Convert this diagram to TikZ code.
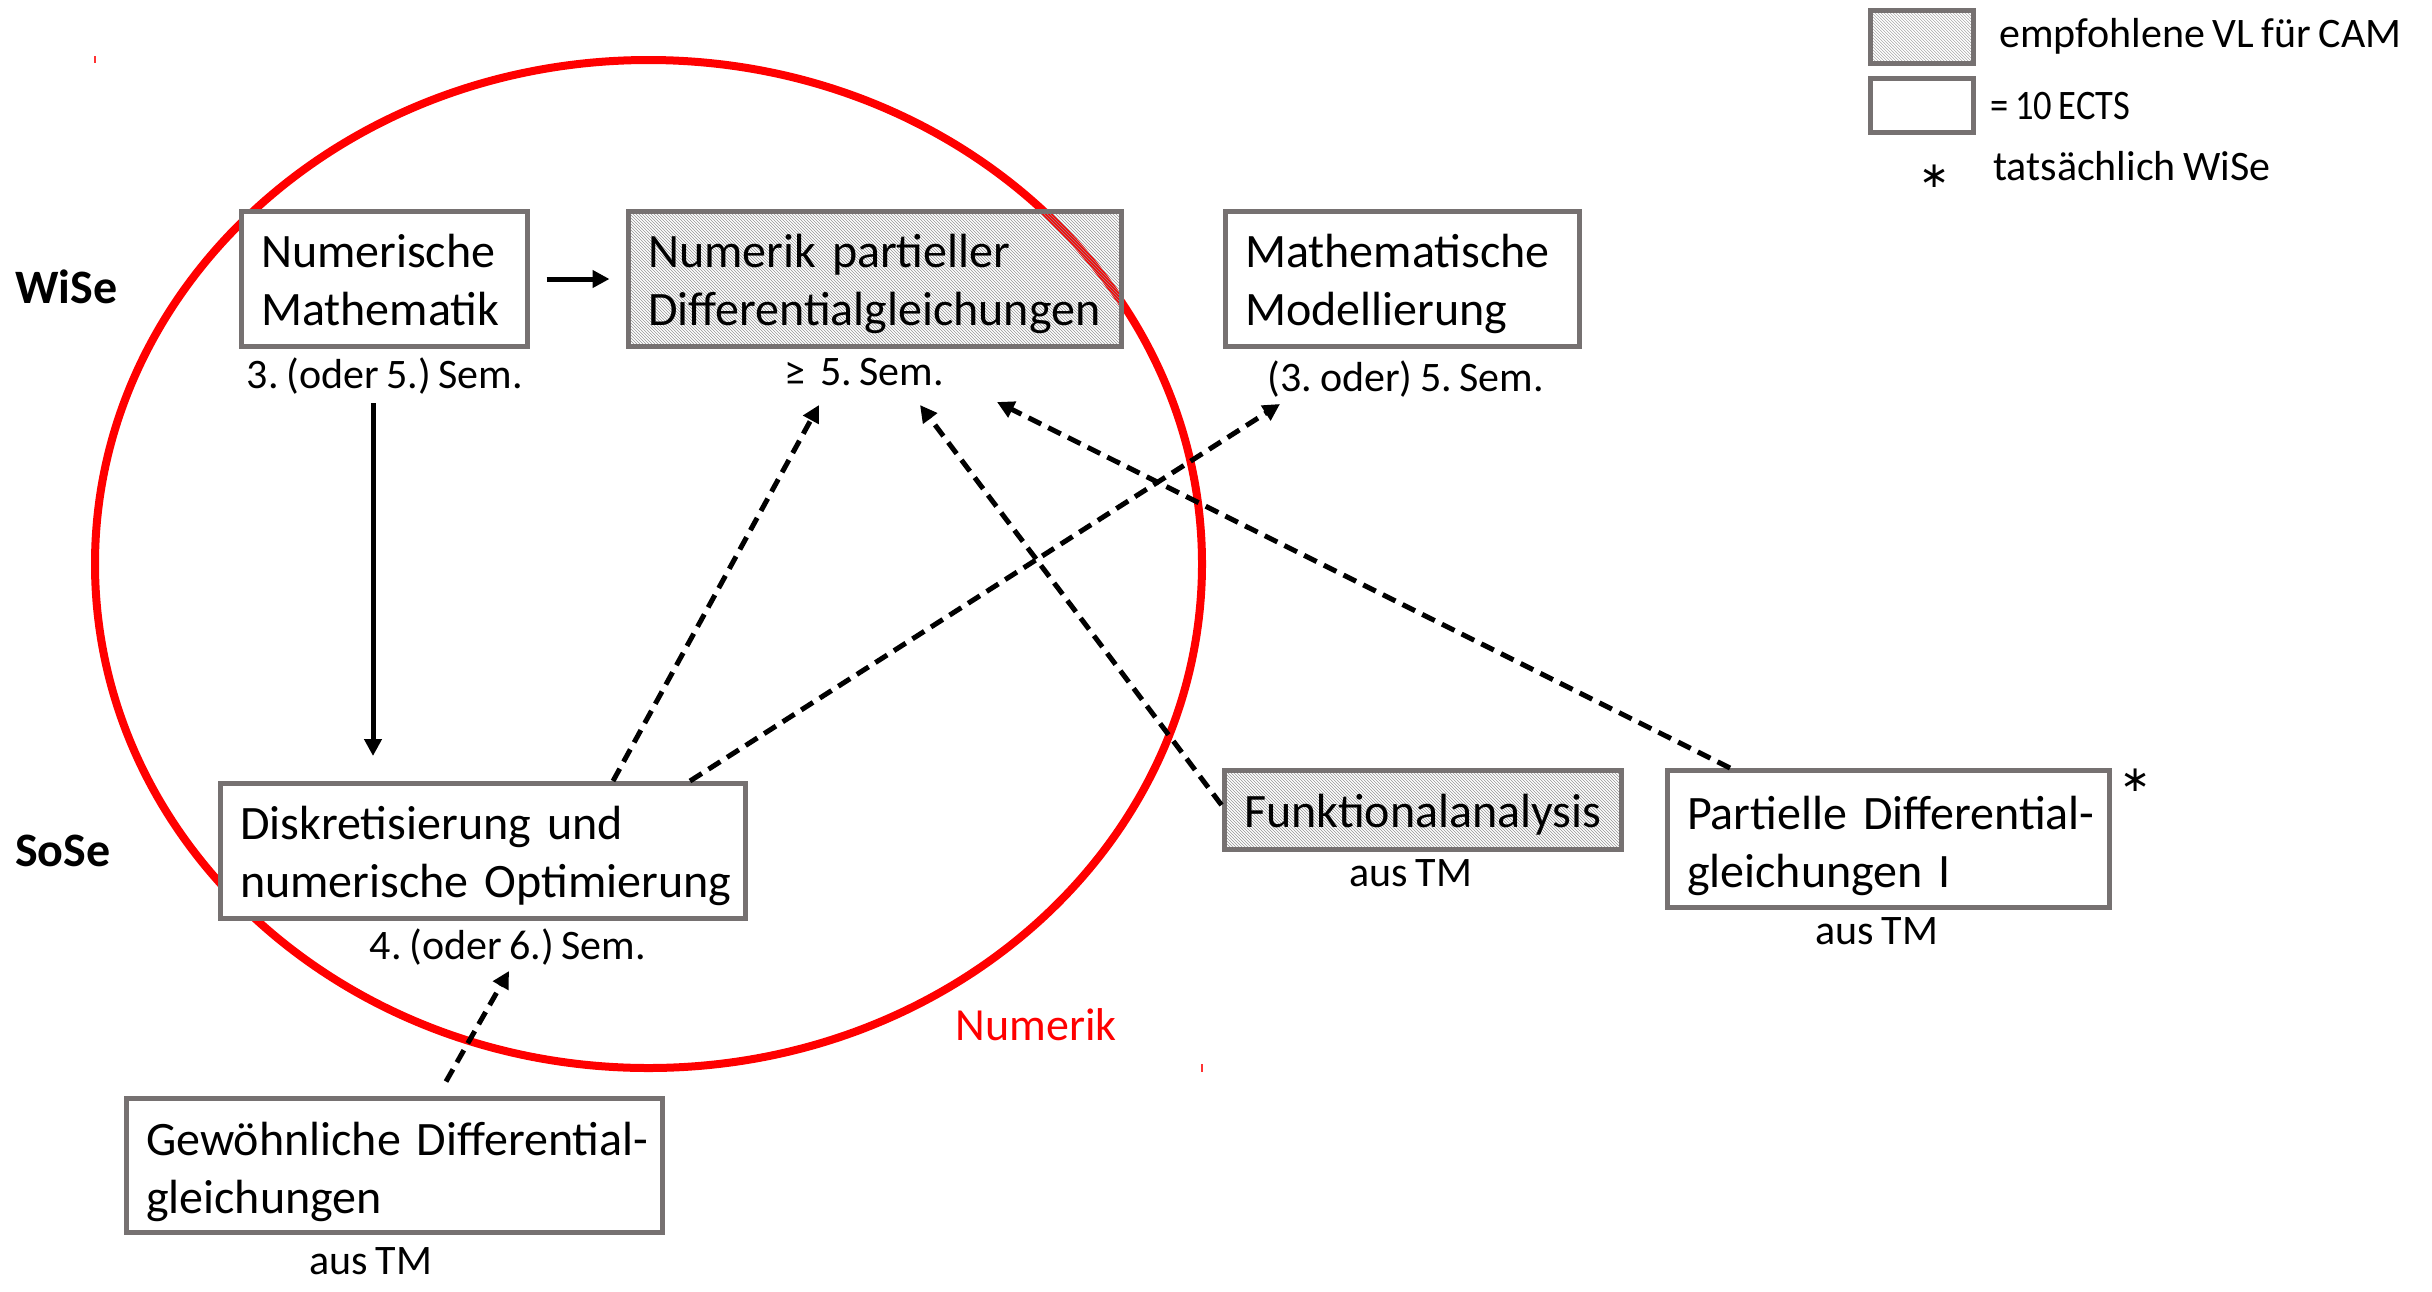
\documentclass[tikz,border=0pt]{standalone}
\usepackage{fontspec}
\setmainfont{Carlito}[WordSpace=0.8]
\newfontfamily\djv{DejaVu Sans}
\usetikzlibrary{arrows.meta,patterns}
\definecolor{boxgray}{RGB}{118,113,113}
\definecolor{numred}{RGB}{255,0,0}
\definecolor{hatchgray}{RGB}{150,150,150}
\newcommand{\bxt}[2][6pt]{\raisebox{-#1}[\height][\depth]{\begin{tabular}{@{}l@{}}#2\end{tabular}}}
\begin{document}
\frenchspacing
\begin{tikzpicture}[x=1pt,y=-1pt,
  box/.style={rectangle, draw=boxgray, line width=5pt, fill=white, inner xsep=20pt, inner ysep=0pt, align=left, font=\fontsize{48}{58}\selectfont},
  hatched/.style={box, fill=none, pattern=north west lines, pattern color=hatchgray},
  lbl/.style={font=\fontsize{42}{50}\selectfont, anchor=base, inner sep=0pt},
  txt/.style={font=\fontsize{42}{50}\selectfont, anchor=base west, inner sep=0pt},
  solidarrow/.style={line width=5pt, -{Triangle[length=17pt,width=17pt]}},
  dasharrow/.style={solidarrow, dash pattern=on 14pt off 8pt},
]
\useasboundingbox (0,0) rectangle (2432,1291);
\fill[white] (0,0) rectangle (2432,1291);

% Numerik ellipse
\draw[numred, line width=8pt] (648.5,564) ellipse [x radius=553.5, y radius=504];
\draw[numred!80, line width=1.5pt] (95,56) -- (95,63);
\draw[numred!80, line width=1.5pt] (1202,1064) -- (1202,1072);

% boxes
\node[box, minimum width=286pt, minimum height=135pt, text width=246pt] (A) at (384,279) {\bxt{Numerische\\Mathematik}};
\node[hatched, minimum width=493pt, minimum height=135pt, text width=453pt] (B) at (874.5,279) {\bxt{Numerik partieller\\Differentialgleichungen}};
\node[box, minimum width=354pt, minimum height=135pt, text width=314pt] (C) at (1402,279) {\bxt{Mathematische\\Modellierung}};
\node[box, minimum width=525pt, minimum height=135pt, text width=485pt] (D) at (482.5,851) {\bxt{Diskretisierung und\\numerische Optimierung}};
\node[hatched, minimum width=397pt, minimum height=79pt, text width=357pt] (E) at (1422.5,810) {\bxt{Funktionalanalysis}};
\node[box, minimum width=442pt, minimum height=137pt, text width=402pt] (F) at (1888,839) {\bxt[8pt]{Partielle Differential-\\gleichungen I}};
\node[box, minimum width=536pt, minimum height=134pt, text width=496pt] (G) at (394,1165) {\bxt[8pt]{Gewöhnliche Differential-\\gleichungen}};

% labels
\node[lbl] (la) at (385,388) {3. (oder 5.) Sem.};
\node[lbl] (lb) at (864,385) {≥\ \ 5. Sem.};
\node[lbl] (lc) at (1406,391) {(3. oder) 5. Sem.};
\node[lbl] (ld) at (508,959) {4. (oder 6.) Sem.};
\node[lbl] (le) at (1411,886) {aus TM};
\node[lbl] (lf) at (1877,944) {aus TM};
\node[lbl] (lg) at (371,1274) {aus TM};

\node[txt, font=\bfseries\fontsize{48}{58}\selectfont] (wise) at (15,303) {WiSe};
\node[txt, font=\bfseries\fontsize{48}{58}\selectfont] (sose) at (15,866) {SoSe};
\node[lbl, font=\fontsize{46}{56}\selectfont, text=numred] (numlabel) at (1036,1040) {Numerik};
\node[inner sep=0pt, font=\djv\fontsize{36}{40}\selectfont] (starF) at (2136,780) {∗};

% legend
\node[hatched, minimum width=103pt, minimum height=53pt, text width=0pt, inner xsep=0pt] (leg1) at (1921.5,36.5) {};
\node[box, minimum width=103pt, minimum height=54pt, text width=0pt, inner xsep=0pt] (leg2) at (1921.5,105) {};
\node[txt] (t1) at (1999,47) {empfohlene VL für CAM};
\node[txt] (t2) at (1990,119) {\scalebox{0.87}[1]{= 10 ECTS}};
\node[txt] (t3) at (1993,180) {tatsächlich WiSe};
\node[inner sep=0pt, font=\djv\fontsize{36}{40}\selectfont] (starL) at (1935,176) {∗};

% connectors
\draw[solidarrow] ([xshift=17pt]A.east) -- ([xshift=-16pt]B.west);
\draw[solidarrow] ([shift={(-12,15)}]la.base) -- ([shift={(-109.5,-25)}]D.north);
\draw[dasharrow] ([xshift=130.5pt]D.north) -- ([shift={(-55.5,56)}]B.south);
\draw[dasharrow] ([xshift=207.5pt]D.north) -- ([shift={(-122,55)}]C.south);
\draw[dasharrow] ([yshift=5pt]E.west) -- ([shift={(45.5,56)}]B.south);
\draw[dasharrow] ([xshift=-158pt]F.north) -- ([shift={(122.5,53)}]B.south);
\draw[dasharrow] ([shift={(52,-14)}]G.north) -- ([shift={(26.5,50)}]D.south);
\end{tikzpicture}
\end{document}
